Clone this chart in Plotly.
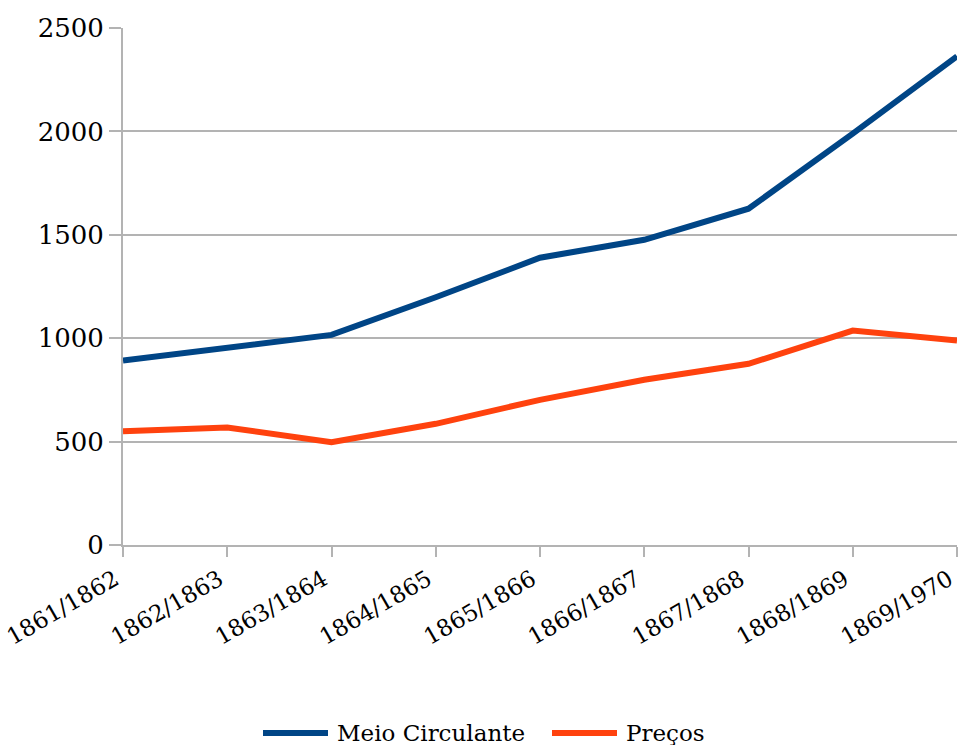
import plotly.graph_objects as go

periods = ["1861/1862", "1862/1863", "1863/1864", "1864/1865", "1865/1866",
           "1866/1867", "1867/1868", "1868/1869", "1869/1970"]
meio_circulante = [892, 956, 1016, 1198, 1389, 1476, 1626, 1989, 2363]
precos = [550, 568, 497, 586, 702, 799, 876, 1037, 989]
y_ticks = [0, 500, 1000, 1500, 2000, 2500]

FONT = "DejaVu Serif"
GRID = "#b3b3b3"
W, H = 959, 745
L, R, T, B = 123, 2, 28, 200
PW, PH = W - L - R, H - T - B

series = [("Meio Circulante", meio_circulante, "#004586"),
          ("Preços", precos, "#ff420e")]

fig = go.Figure()
for name, values, color in series:
    fig.add_trace(go.Scatter(x=periods, y=values, name=name, mode="lines",
                             line=dict(color=color, width=6)))

# Legend row under the axis: wide line swatch + label per series
# (paper coordinates are relative to the plotting area)
def px_x(px):
    return (px - L) / PW

def px_y(py):
    return (H - B - py) / PH

legend_y = px_y(733)
swatch_x = [263, 552]
for (name, _, color), x0 in zip(series, swatch_x):
    fig.add_shape(type="line", xref="paper", yref="paper",
                  x0=px_x(x0), x1=px_x(x0 + 65), y0=legend_y, y1=legend_y,
                  line=dict(color=color, width=6))
    fig.add_annotation(xref="paper", yref="paper", x=px_x(x0 + 72), y=legend_y,
                       text=name, showarrow=False, xanchor="left", yanchor="middle",
                       font=dict(family=FONT, size=23, color="black"))

fig.update_layout(
    width=W, height=H,
    margin=dict(l=L, r=R, t=T, b=B),
    plot_bgcolor="white", paper_bgcolor="white",
    font=dict(family=FONT, size=26, color="black"),
    showlegend=False,
)
fig.update_xaxes(
    type="category", range=[0, len(periods) - 1], automargin=False,
    showgrid=False, showline=True, linecolor=GRID, linewidth=2,
    ticks="outside", ticklen=10, tickcolor=GRID, tickwidth=2,
    tickangle=-30, tickfont=dict(family=FONT, size=23), ticklabelshift=-8,
)
fig.update_yaxes(
    range=[0, 2500], tickvals=y_ticks, automargin=False,
    showgrid=True, gridcolor=GRID, gridwidth=2,
    showline=True, linecolor=GRID, linewidth=2,
    ticks="outside", ticklen=12, tickcolor=GRID, tickwidth=2,
    zeroline=False, tickfont=dict(family=FONT, size=26),
)

fig.write_html("out.html")
